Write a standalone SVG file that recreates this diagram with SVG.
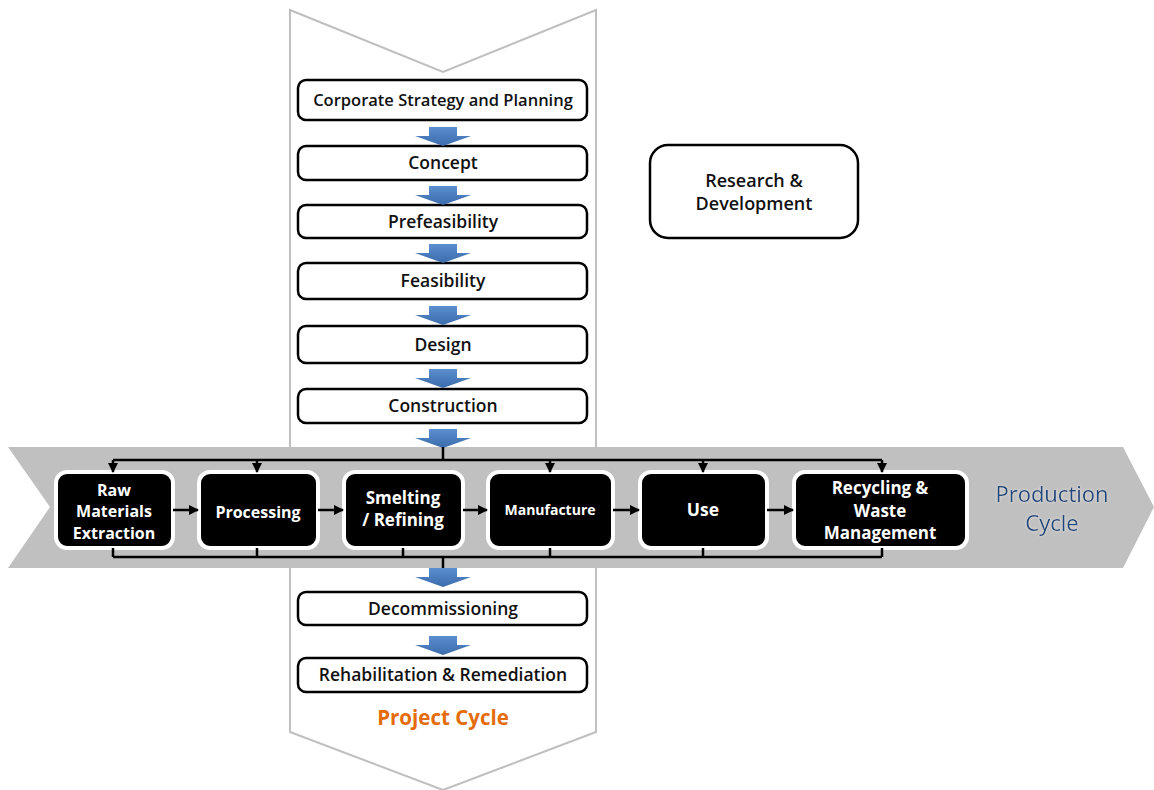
<svg xmlns="http://www.w3.org/2000/svg" width="1154" height="790" viewBox="0 0 1154 790">
  <style>
    .stage { fill: #ffffff; stroke: #000000; stroke-width: 2.5; }
    .stage-text { font-family: "Open Sans", "Liberation Sans", sans-serif; font-weight: 600; font-size: 17.5px; fill: #111111; text-anchor: middle; }
    .step { fill: #000000; stroke: #ffffff; stroke-width: 4; }
    .step-text { font-family: "Open Sans", "Liberation Sans", sans-serif; font-weight: 700; font-size: 16px; fill: #ffffff; text-anchor: middle; }
    .link { fill: none; stroke: #000000; stroke-width: 2.5; }
    .flow { fill: url(#blueFlow); }
  </style>
  <defs>
    <linearGradient id="blueFlow" x1="0" y1="0" x2="0" y2="1">
      <stop offset="0" stop-color="#5b8fd0"/>
      <stop offset="1" stop-color="#3b6bab"/>
    </linearGradient>
    <filter id="glow" x="-10%" y="-20%" width="120%" height="140%">
      <feGaussianBlur in="SourceAlpha" stdDeviation="1.5" result="b"/>
      <feFlood flood-color="#ffffff" flood-opacity="0.6"/>
      <feComposite in2="b" operator="in" result="g"/>
      <feMerge><feMergeNode in="g"/><feMergeNode in="SourceGraphic"/></feMerge>
    </filter>
    <marker id="head" viewBox="0 0 10 10" refX="9" refY="5" markerWidth="4" markerHeight="4" orient="auto">
      <path d="M0,0 L10,5 L0,10 z" fill="#000000"/>
    </marker>
    <path id="blockArrow" d="M-14,0 H14 V9 H28 L0,19 L-28,9 H-14 z"/>
  </defs>

  <rect width="1154" height="790" fill="#ffffff"/>

  <!-- project cycle chevron -->
  <path d="M290,10 L443,72 L596,10 V732 L443,790 L290,732 z" fill="#ffffff" stroke="#bfbfbf" stroke-width="2"/>

  <!-- production cycle chevron -->
  <path d="M8,447 H1123 L1154,507 L1123,568 H8 L50,507 z" fill="#c0c0c0"/>

  <!-- project stage boxes -->
  <g id="corporate-strategy">
    <rect class="stage" x="298" y="80" width="289" height="40" rx="8"/>
    <text class="stage-text" x="443" y="106" style="font-size:16.5px">Corporate Strategy and Planning</text>
  </g>
  <g id="concept">
    <rect class="stage" x="298" y="146" width="289" height="34" rx="8"/>
    <text class="stage-text" x="443" y="169">Concept</text>
  </g>
  <g id="prefeasibility">
    <rect class="stage" x="298" y="205" width="289" height="33" rx="8"/>
    <text class="stage-text" x="443" y="228">Prefeasibility</text>
  </g>
  <g id="feasibility">
    <rect class="stage" x="298" y="263" width="289" height="36" rx="8"/>
    <text class="stage-text" x="443" y="287">Feasibility</text>
  </g>
  <g id="design">
    <rect class="stage" x="298" y="326" width="289" height="37" rx="8"/>
    <text class="stage-text" x="443" y="351">Design</text>
  </g>
  <g id="construction">
    <rect class="stage" x="298" y="389" width="289" height="34" rx="8"/>
    <text class="stage-text" x="443" y="412">Construction</text>
  </g>
  <g id="decommissioning">
    <rect class="stage" x="298" y="592" width="289" height="33" rx="8"/>
    <text class="stage-text" x="443" y="615">Decommissioning</text>
  </g>
  <g id="rehabilitation">
    <rect class="stage" x="298" y="658" width="289" height="34" rx="8"/>
    <text class="stage-text" x="443" y="681">Rehabilitation &amp; Remediation</text>
  </g>

  <g id="research-development">
    <rect class="stage" x="650" y="145" width="208" height="93" rx="18"/>
    <text class="stage-text" x="754" y="187" style="font-size:18px">Research &amp;</text>
    <text class="stage-text" x="754" y="210" style="font-size:18px">Development</text>
  </g>

  <!-- production steps -->
  <g id="raw-materials">
    <rect class="step" x="56" y="472" width="117" height="76" rx="11"/>
    <text class="step-text" x="114" y="496">Raw</text>
    <text class="step-text" x="114" y="517">Materials</text>
    <text class="step-text" x="114" y="539">Extraction</text>
  </g>
  <g id="processing">
    <rect class="step" x="199" y="472" width="119" height="76" rx="11"/>
    <text class="step-text" x="258" y="518">Processing</text>
  </g>
  <g id="smelting">
    <rect class="step" x="344" y="472" width="119" height="76" rx="11"/>
    <text class="step-text" x="403" y="504" style="font-size:17px">Smelting</text>
    <text class="step-text" x="403" y="526" style="font-size:17px">/ Refining</text>
  </g>
  <g id="manufacture">
    <rect class="step" x="488" y="472" width="125" height="76" rx="11"/>
    <text class="step-text" x="550" y="515" style="font-size:14px">Manufacture</text>
  </g>
  <g id="use">
    <rect class="step" x="640" y="472" width="127" height="76" rx="11"/>
    <text class="step-text" x="703" y="516" style="font-size:17.5px">Use</text>
  </g>
  <g id="recycling">
    <rect class="step" x="794" y="472" width="173" height="76" rx="11"/>
    <text class="step-text" x="880" y="494" style="font-size:17px">Recycling &amp;</text>
    <text class="step-text" x="880" y="517" style="font-size:17px">Waste</text>
    <text class="step-text" x="880" y="539" style="font-size:17px">Management</text>
  </g>

  <!-- cycle labels -->
  <g id="production-cycle-label" font-family="'Open Sans', 'Liberation Sans', sans-serif" font-size="22" fill="#1f497d" text-anchor="middle" filter="url(#glow)">
    <text x="1052" y="502">Production</text>
    <text x="1052" y="531">Cycle</text>
  </g>
  <g id="project-cycle-label">
    <text x="443" y="725" font-family="'Open Sans', 'Liberation Sans', sans-serif" font-weight="700" font-size="20.5" fill="#e46c0a" text-anchor="middle">Project Cycle</text>
  </g>

  <!-- connectors -->
  <g id="connectors">
    <!-- stage-to-stage block arrows -->
    <use href="#blockArrow" class="flow" x="443" y="127"/>
    <use href="#blockArrow" class="flow" x="443" y="186"/>
    <use href="#blockArrow" class="flow" x="443" y="244"/>
    <use href="#blockArrow" class="flow" x="443" y="306"/>
    <use href="#blockArrow" class="flow" x="443" y="369"/>
    <use href="#blockArrow" class="flow" x="443" y="429"/>
    <use href="#blockArrow" class="flow" x="443" y="568"/>
    <use href="#blockArrow" class="flow" x="443" y="636"/>

    <!-- distribution bus above the steps -->
    <path class="link" d="M443,447 V460"/>
    <path class="link" d="M113,460 H882"/>
    <path class="link" d="M113,460 V472" marker-end="url(#head)"/>
    <path class="link" d="M257,460 V472" marker-end="url(#head)"/>
    <path class="link" d="M550,460 V472" marker-end="url(#head)"/>
    <path class="link" d="M703,460 V472" marker-end="url(#head)"/>
    <path class="link" d="M882,460 V472" marker-end="url(#head)"/>

    <!-- collection bus below the steps -->
    <path class="link" d="M113,557 H882"/>
    <path class="link" d="M113,548 V557 M257,548 V557 M403,548 V557 M550,548 V557 M703,548 V557 M882,548 V557"/>
    <path class="link" d="M443,557 V568"/>

    <!-- step-to-step arrows -->
    <path class="link" d="M173,510 H198" marker-end="url(#head)"/>
    <path class="link" d="M318,510 H343" marker-end="url(#head)"/>
    <path class="link" d="M463,510 H487" marker-end="url(#head)"/>
    <path class="link" d="M613,510 H639" marker-end="url(#head)"/>
    <path class="link" d="M767,510 H793" marker-end="url(#head)"/>
  </g>
</svg>
